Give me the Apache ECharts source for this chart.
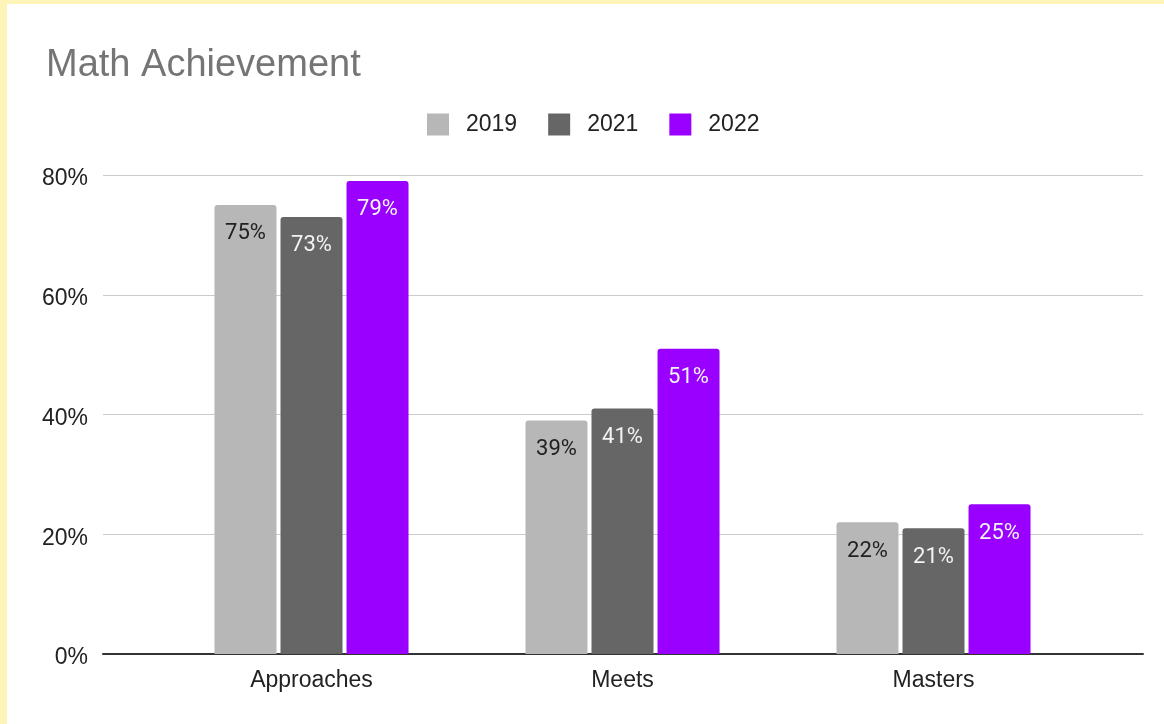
<!DOCTYPE html>
<html>
<head>
<meta charset="utf-8">
<script src="https://cdn.jsdelivr.net/npm/echarts@6/dist/echarts.min.js"></script>
<style>
  html, body { margin: 0; padding: 0; width: 1164px; height: 724px; background: #fdf5b8; overflow: hidden; }
  #chart { position: absolute; left: 7px; top: 4px; width: 1157px; height: 720px; background: #ffffff; }
</style>
</head>
<body>
<div id="chart"></div>
<script>
// Achievement levels and yearly percentages
const categories = ['Approaches', 'Meets', 'Masters'];
const years = ['2019', '2021', '2022'];
const values2019 = [75, 39, 22];
const values2021 = [73, 41, 21];
const values2022 = [79, 51, 25];
const yTicks = [0, 20, 40, 60, 80];

const colors = ['#b7b7b7', '#666666', '#9900ff'];
const labelColors = ['#222222', '#f3f3f3', '#f3f3f3'];
const seriesValues = [values2019, values2021, values2022];

const chart = echarts.init(document.getElementById('chart'));
const OX = 7, OY = 4; // container offset within the page
const axisFont = 'Liberation Sans';

const series = years.map((y, i) => ({
  name: y,
  type: 'bar',
  xAxisIndex: 1,
  yAxisIndex: 1,
  data: seriesValues[i],
  barWidth: 62,
  barGap: '6.5%',
  itemStyle: { color: colors[i], borderRadius: [3, 3, 0, 0] },
  label: {
    show: true,
    position: 'insideTop',
    distance: 18,
    formatter: p => p.value + '%',
    color: labelColors[i],
    fontFamily: 'Roboto',
    fontSize: 22
  }
}));

chart.setOption({
  animation: false,
  color: colors,
  title: {
    text: 'Math Achievement',
    left: 46 - OX,
    top: 47 - OY,
    padding: 0,
    textStyle: { fontFamily: axisFont, fontSize: 38, fontWeight: 'normal', color: '#757575' }
  },
  legend: {
    data: years,
    left: 427 - OX,
    top: 113 - OY,
    padding: 0,
    itemWidth: 22,
    itemHeight: 22,
    itemGap: 31,
    icon: 'rect',
    itemStyle: { borderRadius: 2 },
    textStyle: { fontFamily: axisFont, fontSize: 23, color: '#222222', padding: [0, 0, 0, 12] }
  },
  grid: [
    { left: 103 - OX, right: 1164 - 1143, top: 175 - OY, bottom: 724 - 654, containLabel: false },
    { left: 156 - OX, right: 1164 - 1089, top: 175 - OY, bottom: 724 - 654, containLabel: false }
  ],
  xAxis: [
    { type: 'category', gridIndex: 0, data: categories, show: true,
      axisLine: { show: true, lineStyle: { color: '#333333', width: 2 } },
      axisTick: { show: false }, axisLabel: { show: false }, splitLine: { show: false } },
    { type: 'category', gridIndex: 1, data: categories,
      axisLine: { show: false }, axisTick: { show: false },
      axisLabel: { fontFamily: axisFont, fontSize: 23, color: '#222222', margin: 15 } }
  ],
  yAxis: [
    { type: 'value', gridIndex: 0, min: yTicks[0], max: yTicks[yTicks.length - 1], interval: 20,
      axisLine: { show: false }, axisTick: { show: false },
      axisLabel: {
        formatter: v => '{t|' + v + '%}',
        margin: 15,
        rich: { t: { fontFamily: axisFont, fontSize: 23, color: '#222222', padding: [8, 0, 0, 0] } }
      },
      splitLine: { lineStyle: { color: '#cccccc', width: 1 } } },
    { type: 'value', gridIndex: 1, min: yTicks[0], max: yTicks[yTicks.length - 1], interval: 20,
      show: false, splitLine: { show: false } }
  ],
  series: series
});
</script>
</body>
</html>
